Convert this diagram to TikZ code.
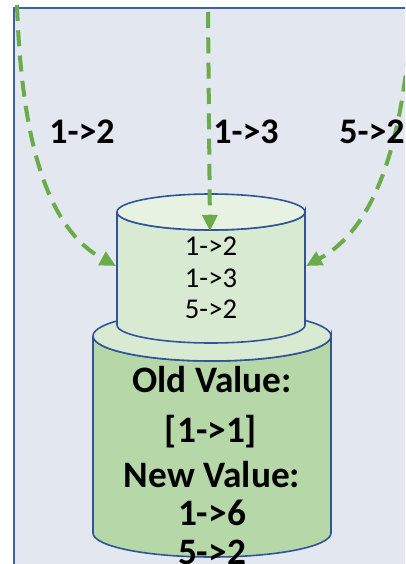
\documentclass[tikz,border=0pt]{standalone}
\usepackage{fontspec}
\setmainfont{Carlito}
\usetikzlibrary{arrows.meta}
\definecolor{Panel}{HTML}{E3E8F0}
\definecolor{Frame}{HTML}{3A62AE}
\definecolor{Edge}{HTML}{2F5597}
\definecolor{Flow}{HTML}{6AAB4A}
\definecolor{CapLight}{HTML}{E8F2E2}
\definecolor{BodyLight}{HTML}{D9EAD3}
\definecolor{BodyDark}{HTML}{B6D7A8}

\begin{document}
\begin{tikzpicture}[x=0.75pt,y=-0.75pt,every node/.style={text=black,inner sep=0pt},
  flow/.style={Flow,line width=3pt,dash pattern=on 12pt off 7pt,-{Triangle[length=12pt,width=11pt]}},
  tag/.style={anchor=base,font=\fontsize{27}{31}\selectfont\bfseries},
  entry/.style={anchor=base,font=\fontsize{21.5}{25}\selectfont},
  stored/.style={anchor=base,font=\fontsize{28}{33}\selectfont\bfseries}]
\useasboundingbox (0,0) rectangle (405,564);
\clip (0,0) rectangle (405,564);
\fill[Panel] (14,8) rectangle (420,580);
\draw[Frame,line width=1.5pt] (14,580)--(14,8)--(420,8);
% store below
\filldraw[fill=BodyDark,draw=Edge,line width=1.2pt] (93,336)--(93,533) arc[start angle=180,end angle=0,x radius=119,y radius=24]--(331,336) arc[start angle=0,end angle=180,x radius=119,y radius=25];
\filldraw[fill=BodyLight,draw=Edge,line width=1.2pt] (212,336) ellipse [x radius=119,y radius=25];
% buffer on top
\filldraw[fill=BodyLight,draw=Edge,line width=1.2pt] (117,212)--(117,325) arc[start angle=180,end angle=0,x radius=94,y radius=18]--(305,212) arc[start angle=0,end angle=180,x radius=94,y radius=18];
\filldraw[fill=CapLight,draw=Edge,line width=1.2pt] (211,212) ellipse [x radius=94,y radius=18];
\node[entry] (e1) at (211,255) {1->2};
\node[entry] (e2) at (211,287) {1->3};
\node[entry] (e3) at (211,318) {5->2};
\node[stored] (oldk) at (212,392) {Old Value:};
\node[stored] (oldv) at (211,442) {[1->1]};
\node[stored] (newk) at (212,487) {New Value:};
\node[stored] (newa) at (212,525) {1->6};
\node[stored] (newb) at (212,564) {5->2};
% incoming writes
\coordinate (srcA) at (17,5);\coordinate (inA) at (116,266);
\coordinate (srcB) at (208,12);\coordinate (inB) at (210,231);
\coordinate (srcC) at (412,0);\coordinate (inC) at (306,266);
\draw[flow] (srcA) .. controls (22,150) and (50,230) .. (inA);
\draw[flow] (srcB)--(inB);
\draw[flow] (srcC) .. controls (405,150) and (372,230) .. (inC);
\node[tag] (wA) at (82,143) {1->2};
\node[tag] (wB) at (246,143) {1->3};
\node[tag] (wC) at (372,143) {5->2};
\end{tikzpicture}
\end{document}
